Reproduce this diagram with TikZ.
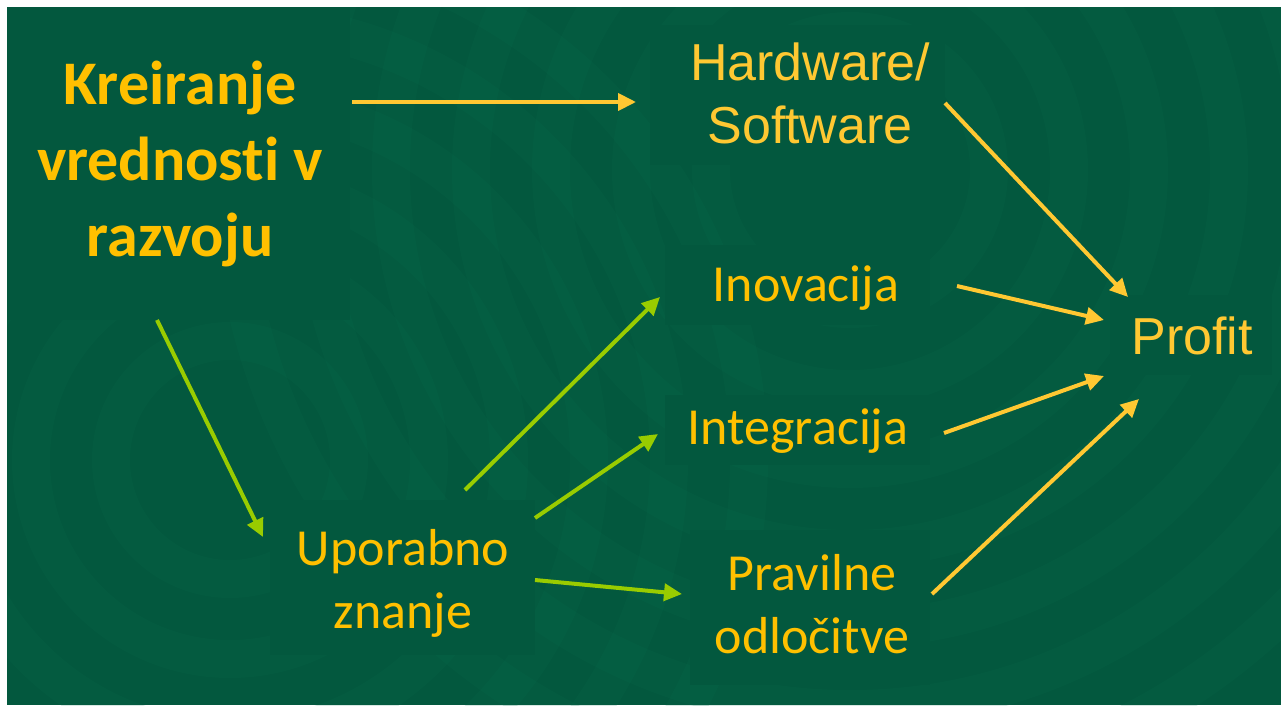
\documentclass[tikz,border=0pt]{standalone}
\usepackage{fontspec}
\setmainfont{Carlito}[Ligatures=NoCommon]
\newfontfamily\arialf{Liberation Sans}
\usetikzlibrary{arrows.meta}
\definecolor{bgbase}{RGB}{3,88,62}
\definecolor{bgring}{RGB}{10,112,80}
\definecolor{txtyel}{RGB}{255,192,0}
\definecolor{arryel}{RGB}{255,200,50}
\definecolor{arrgrn}{RGB}{153,204,0}
\tikzset{
  lbl/.style={text=txtyel, align=center, inner sep=0pt, font=\fontsize{52}{63}\selectfont},
  lblbold/.style={text=txtyel, align=center, inner sep=0pt, font=\fontsize{62}{76}\selectfont\bfseries},
  lblarial/.style={text=arryel, align=center, inner sep=0pt, font=\arialf\fontsize{52}{63}\selectfont},
  ylink/.style={draw=arryel, line width=4pt, -{Triangle[length=18pt,width=17pt]}},
  glink/.style={draw=arrgrn, line width=4pt, -{Triangle[length=18pt,width=17pt]}},
  flatbox/.style={fill=bgbase},
  ringband/.style={fill=bgring, fill opacity=0.16, even odd rule},
}
\begin{document}
\begin{tikzpicture}[x=1pt,y=-1pt]
\useasboundingbox (0,0) rectangle (1281,705);
\fill[white] (0,0) rectangle (1281,705);
\fill[bgbase] (7,7) rectangle (1281,705);
% faint concentric background rings
\begin{scope}
  \clip (7,7) rectangle (1281,705);
  \foreach \r in {100,180,260,340,420,500} {
    \fill[ringband] (230,460) circle[radius=\r+38] (230,460) circle[radius=\r];
  }
  \foreach \r in {120,200,280,360,440,520,600} {
    \fill[ringband] (850,170) circle[radius=\r+38] (850,170) circle[radius=\r];
  }
\end{scope}
% flat text boxes
\fill[flatbox] (7,7) rectangle (350,320);
\fill[flatbox] (270,500) rectangle (535,655);
\fill[flatbox] (650,25) rectangle (945,165);
\fill[flatbox] (665,245) rectangle (930,325);
\fill[flatbox] (665,395) rectangle (930,465);
\fill[flatbox] (690,530) rectangle (930,685);
\fill[flatbox] (1110,295) rectangle (1272,375);

% nodes
\node[lblbold] (kre) at (180,164) {Kreiranje\\vrednosti v\\razvoju};
\node[lblarial] (hw) at (810,93) {Hardware/\\Software};
\node[lbl] (ino) at (806,288) {Inovacija};
\node[lbl] (int) at (798,431) {Integracija};
\node[lbl] (prav) at (812,604) {Pravilne\\odločitve};
\node[lbl] (upo) at (403,583) {Uporabno\\znanje};
\node[lblarial] (prof) at (1192,336) {Profit};

% connector end points
\coordinate (kreA) at (352,102);   \coordinate (hwIn) at (636,102);
\coordinate (hwOut) at (945,103);  \coordinate (profA) at (1128,297);
\coordinate (inoOut) at (957,286); \coordinate (profB) at (1104,320);
\coordinate (intOut) at (944,433); \coordinate (profC) at (1104,376);
\coordinate (pravOut) at (932,594);\coordinate (profD) at (1139,399);
\coordinate (kreB) at (157,320);   \coordinate (upoIn) at (263,537);
\coordinate (upoA) at (465,490);   \coordinate (inoIn) at (660,297);
\coordinate (upoB) at (535,518);   \coordinate (intIn) at (658,434);
\coordinate (upoC) at (535,580);   \coordinate (pravIn) at (682,594);

% connectors
\draw[ylink] (kreA) -- (hwIn);
\draw[ylink] (hwOut) -- (profA);
\draw[ylink] (inoOut) -- (profB);
\draw[ylink] (intOut) -- (profC);
\draw[ylink] (pravOut) -- (profD);
\draw[glink] (kreB) -- (upoIn);
\draw[glink] (upoA) -- (inoIn);
\draw[glink] (upoB) -- (intIn);
\draw[glink] (upoC) -- (pravIn);
\end{tikzpicture}
\end{document}
